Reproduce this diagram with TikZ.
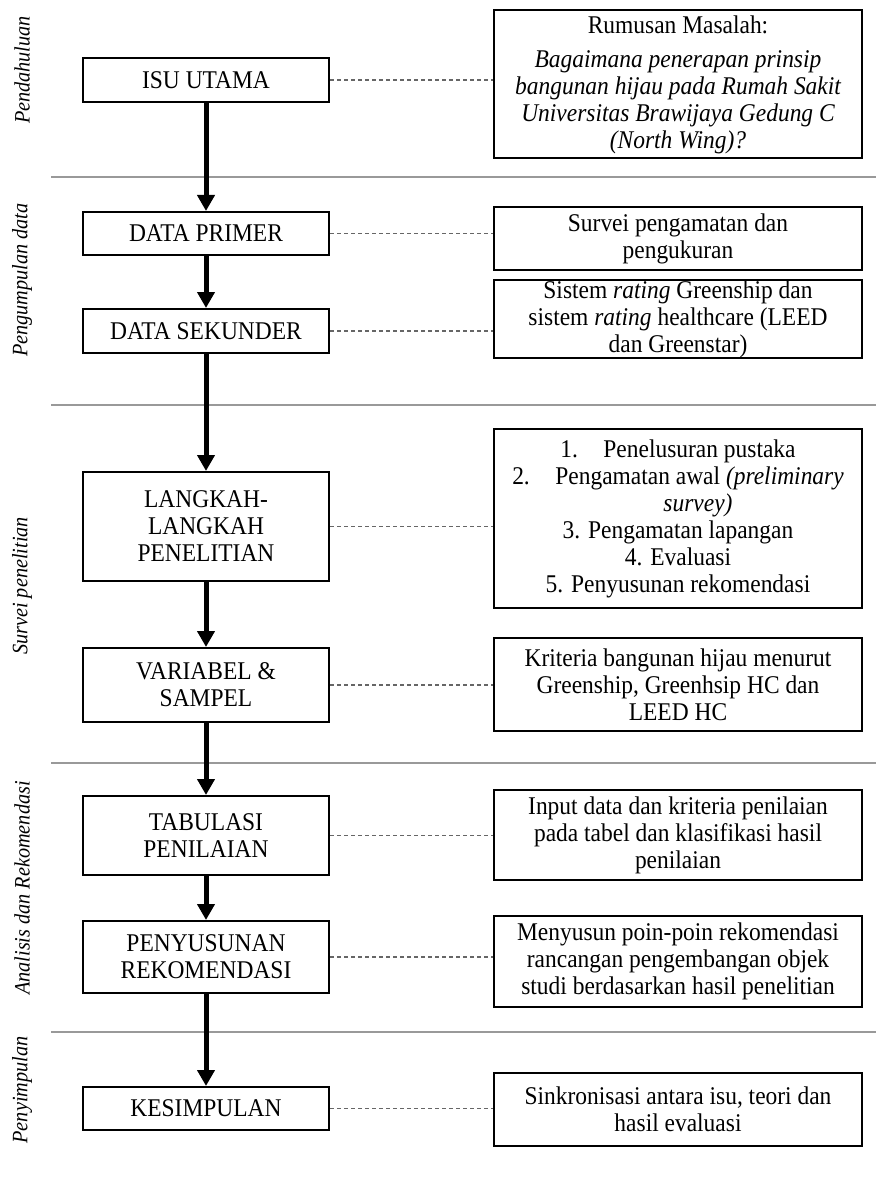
\documentclass[tikz,border=0pt]{standalone}
\usepackage{fontspec}
\setmainfont{Liberation Serif}[FakeStretch=0.92]
\usetikzlibrary{arrows.meta}
\begin{document}
\begin{tikzpicture}[x=1pt,y=-1pt,
  base/.style={font=\fontsize{25.5pt}{27pt}\selectfont, align=center, inner sep=0pt},
  lbox/.style={base, draw, line width=2pt, minimum width=246pt},
  rbox/.style={base, draw, line width=2pt, minimum width=368pt},
  arr/.style={line width=5pt, -{Triangle[width=17pt,length=16pt]}},
  dashlink/.style={draw=black!60, line width=1.4pt, dash pattern=on 4pt off 3pt},
  sep/.style={draw=black!40, line width=1.5pt},
  side/.style={font=\fontsize{22pt}{24pt}\selectfont\itshape, rotate=90, inner sep=0pt}
]
\useasboundingbox (0,0) rectangle (876,1198);

% separators
\coordinate (s1a) at (51,177); \coordinate (s1b) at (876,177);
\coordinate (s2a) at (51,405); \coordinate (s2b) at (876,405);
\coordinate (s3a) at (51,763); \coordinate (s3b) at (876,763);
\coordinate (s4a) at (51,1032); \coordinate (s4b) at (876,1032);
\draw[sep] (s1a) -- (s1b);
\draw[sep] (s2a) -- (s2b);
\draw[sep] (s3a) -- (s3b);
\draw[sep] (s4a) -- (s4b);

% side labels
\node[side] (l1) at (22,70) {Pendahuluan};
\node[side] (l2) at (22,280) {Pengumpulan data};
\node[side] (l3) at (22,586) {Survei penelitian};
\node[side] (l4) at (22,888) {Analisis dan Rekomendasi};
\node[side] (l5) at (22,1090) {Penyimpulan};

% left boxes
\node[lbox, minimum height=44pt] (isu) at (206,80) {ISU UTAMA};
\node[lbox, minimum height=43pt] (dp) at (206,233.5) {DATA PRIMER};
\node[lbox, minimum height=44pt] (ds) at (206,331) {DATA SEKUNDER};
\node[lbox, minimum height=109pt] (lang) at (206,526.5) {LANGKAH-\\LANGKAH\\PENELITIAN};
\node[lbox, minimum height=74pt] (var) at (206,685) {VARIABEL \&\\SAMPEL};
\node[lbox, minimum height=79pt] (tab) at (206,835.5) {TABULASI\\PENILAIAN};
\node[lbox, minimum height=72pt] (pen) at (206,957) {PENYUSUNAN\\REKOMENDASI};
\node[lbox, minimum height=43pt] (kes) at (206,1108.5) {KESIMPULAN};

% right boxes
\node[rbox, minimum height=148pt] (rum) at (678,84) {};
\node[base] (rumtxt) at (678,84.5) {Rumusan Masalah:\\[7pt]
  \itshape Bagaimana penerapan prinsip\\\itshape bangunan hijau pada Rumah Sakit\\\itshape Universitas Brawijaya Gedung C\\\itshape (North Wing)?};
\node[rbox, minimum height=63pt] (sp) at (678,238.5) {Survei pengamatan dan\\pengukuran};
\node[rbox, minimum height=76pt] (sr) at (678,319) {Sistem \textit{rating} Greenship dan\\sistem \textit{rating} healthcare (LEED\\dan Greenstar)};
\node[rbox, minimum height=179pt] (lst) at (678,518.5) {1.\quad Penelusuran pustaka\\2.\quad Pengamatan awal \textit{(preliminary}\\\hspace*{40pt}\textit{survey)}\\3. Pengamatan lapangan\\4. Evaluasi\\5. Penyusunan rekomendasi};
\node[rbox, minimum height=93pt] (krit) at (678,684.5) {Kriteria bangunan hijau menurut\\Greenship, Greenhsip HC dan\\LEED HC};
\node[rbox, minimum height=90pt] (inp) at (678,835) {Input data dan kriteria penilaian\\pada tabel dan klasifikasi hasil\\penilaian};
\node[rbox, minimum height=91pt] (meny) at (678,961.5) {Menyusun poin-poin rekomendasi\\rancangan pengembangan objek\\studi berdasarkan hasil penelitian};
\node[rbox, minimum height=73pt] (sink) at (678,1109.5) {Sinkronisasi antara isu, teori dan\\hasil evaluasi};

% arrows
\draw[arr] (isu) -- (dp);
\draw[arr] (dp) -- (ds);
\draw[arr] (ds) -- (lang);
\draw[arr] (lang) -- (var);
\draw[arr] (var) -- (tab);
\draw[arr] (tab) -- (pen);
\draw[arr] (pen) -- (kes);

% dashed connectors
\draw[dashlink] (isu.east) -- (isu.east -| rum.west);
\draw[dashlink] (dp.east) -- (dp.east -| sp.west);
\draw[dashlink] (ds.east) -- (ds.east -| sr.west);
\draw[dashlink] (lang.east) -- (lang.east -| lst.west);
\draw[dashlink] (var.east) -- (var.east -| krit.west);
\draw[dashlink] (tab.east) -- (tab.east -| inp.west);
\draw[dashlink] (pen.east) -- (pen.east -| meny.west);
\draw[dashlink] (kes.east) -- (kes.east -| sink.west);
\end{tikzpicture}
\end{document}
